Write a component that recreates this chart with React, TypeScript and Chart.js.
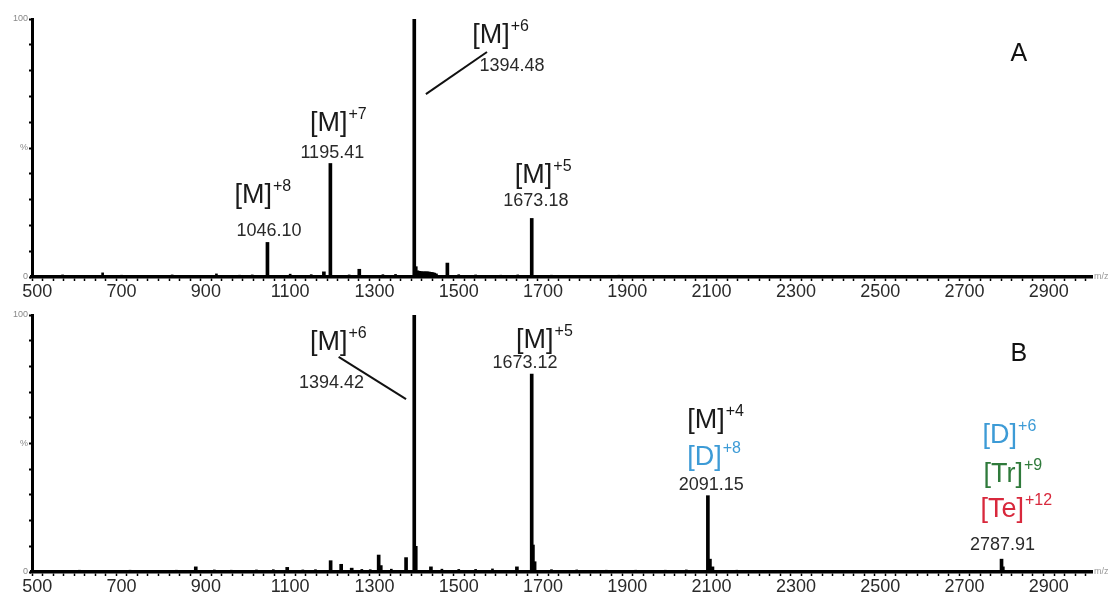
import React, { useEffect, useRef } from 'react';
import { Chart, registerables } from 'chart.js';
Chart.register(...registerables);

// ---------- data ----------
const X_MIN = 500;
const X_MAX = 2990;
const X_TICK_LABELS = [500, 700, 900, 1100, 1300, 1500, 1700, 1900, 2100, 2300, 2500, 2700, 2900];
const Y_TICK_LABELS: Record<number, string> = { 0: '0', 50: '%', 100: '100' };

// Panel A – main peaks (m/z, relative intensity %)
const A_PEAK_MZ = [1046.1, 1195.41, 1394.48, 1673.18, 1473, 1264, 1180, 1398, 1402, 1406, 1410, 1414, 1418, 1422, 1426, 1430, 1434, 1438, 1442, 1446];
const A_PEAK_INT = [13.4, 44, 100, 22.7, 5.4, 3, 2, 4, 2.4, 2.2, 2.1, 2, 2, 2, 2, 1.9, 1.8, 1.7, 1.5, 1.2];
// Panel A – small baseline signals
const A_NOISE_MZ = [560, 610, 655, 700, 760, 820, 870, 925, 980, 1010, 1100, 1150, 1240, 1320, 1350, 1500, 1540, 1600, 1640, 1720, 1800, 1880, 1960, 2050, 2150, 2250, 2350, 2480, 2600, 2700, 2850, 2950];
const A_NOISE_INT = [0.8, 0.6, 1.6, 0.7, 0.6, 0.8, 0.6, 1.2, 0.7, 0.8, 1.1, 0.9, 0.8, 0.9, 1.0, 0.9, 0.8, 0.7, 0.8, 0.7, 0.6, 0.7, 0.6, 0.6, 0.6, 0.5, 0.6, 0.5, 0.5, 0.5, 0.5, 0.5];

// Panel B – main peaks
const B_PEAK_MZ = [1394.42, 1673.12, 2091.15, 2787.91, 1196, 1221, 1246, 1310, 1375, 1398, 1676, 1680, 2096, 2102, 876, 1093, 1434, 1638, 1315, 2791];
const B_PEAK_INT = [100, 77, 29.7, 5, 4.4, 3, 1.5, 6.6, 5.6, 10, 10.5, 4, 5, 2, 2, 1.8, 2, 2, 2.5, 2];
// Panel B – small baseline signals
const B_NOISE_MZ = [550, 600, 660, 720, 780, 830, 920, 960, 1020, 1060, 1130, 1160, 1270, 1290, 1340, 1460, 1500, 1540, 1580, 1720, 1780, 1850, 1920, 1990, 2040, 2160, 2220, 2300, 2400, 2500, 2600, 2700, 2850, 2950];
const B_NOISE_INT = [0.6, 0.7, 0.6, 0.7, 0.6, 0.7, 0.8, 0.7, 0.8, 0.9, 0.8, 0.9, 1.0, 0.9, 1.1, 1.1, 1.0, 1.0, 1.2, 0.9, 0.8, 0.7, 0.7, 0.7, 0.8, 0.7, 0.6, 0.6, 0.6, 0.6, 0.6, 0.6, 0.6, 0.6];

const BLUE = '#3d9bd6';
const GREEN = '#2f7a3b';
const RED = '#d8283c';

type Ann =
  | { kind: 'ion'; x: number; y: number; text: string; sup: string; color: string }
  | { kind: 'num'; x: number; y: number; text: string; align: CanvasTextAlign }
  | { kind: 'line'; x1: number; y1: number; x2: number; y2: number }
  | { kind: 'panel'; x: number; y: number; text: string };

const A_ANN: Ann[] = [
  { kind: 'ion', x: 968, y: 28.7, text: '[M]', sup: '+8', color: '#1a1a1a' },
  { kind: 'num', x: 1050, y: 17.8, text: '1046.10', align: 'center' },
  { kind: 'ion', x: 1147, y: 56.6, text: '[M]', sup: '+7', color: '#1a1a1a' },
  { kind: 'num', x: 1200, y: 48, text: '1195.41', align: 'center' },
  { kind: 'ion', x: 1532, y: 90.7, text: '[M]', sup: '+6', color: '#1a1a1a' },
  { kind: 'num', x: 1549, y: 81.8, text: '1394.48', align: 'left' },
  { kind: 'line', x1: 1422, y1: 70.9, x2: 1567, y2: 87.2 },
  { kind: 'ion', x: 1633, y: 36.4, text: '[M]', sup: '+5', color: '#1a1a1a' },
  { kind: 'num', x: 1683, y: 29.5, text: '1673.18', align: 'center' },
  { kind: 'panel', x: 2809, y: 86.4, text: 'A' },
];

const B_ANN: Ann[] = [
  { kind: 'ion', x: 1147, y: 86.4, text: '[M]', sup: '+6', color: '#1a1a1a' },
  { kind: 'line', x1: 1215, y1: 83.7, x2: 1375, y2: 67.3 },
  { kind: 'num', x: 1121, y: 73.5, text: '1394.42', align: 'left' },
  { kind: 'ion', x: 1636, y: 87.2, text: '[M]', sup: '+5', color: '#1a1a1a' },
  { kind: 'num', x: 1657, y: 81.3, text: '1673.12', align: 'center' },
  { kind: 'ion', x: 2042, y: 56, text: '[M]', sup: '+4', color: '#1a1a1a' },
  { kind: 'ion', x: 2042, y: 41.6, text: '[D]', sup: '+8', color: BLUE },
  { kind: 'num', x: 2099, y: 33.9, text: '2091.15', align: 'center' },
  { kind: 'ion', x: 2743, y: 50.2, text: '[D]', sup: '+6', color: BLUE },
  { kind: 'ion', x: 2745, y: 35, text: '[Tr]', sup: '+9', color: GREEN },
  { kind: 'ion', x: 2738, y: 21.4, text: '[Te]', sup: '+12', color: RED },
  { kind: 'num', x: 2790, y: 10.5, text: '2787.91', align: 'center' },
  { kind: 'panel', x: 2809, y: 84.8, text: 'B' },
];

const FONT = '"Liberation Sans", Arial, Helvetica, sans-serif';

const annPlugin = {
  id: 'ann',
  afterDraw(chart: any, _args: any, opts: any) {
    const ctx: CanvasRenderingContext2D = chart.ctx;
    const xs = chart.scales.x;
    const ys = chart.scales.y;
    const px = (v: number) => xs.getPixelForValue(v);
    const py = (v: number) => ys.getPixelForValue(v);
    ctx.save();
    for (const a of (opts.items as Ann[]) || []) {
      if (a.kind === 'ion') {
        ctx.fillStyle = a.color;
        ctx.textAlign = 'left';
        ctx.textBaseline = 'alphabetic';
        ctx.font = `27px ${FONT}`;
        const x = px(a.x);
        const y = py(a.y);
        ctx.fillText(a.text, x, y);
        const w = ctx.measureText(a.text).width;
        ctx.font = `16px ${FONT}`;
        ctx.fillText(a.sup, x + w + 1, y - 12);
      } else if (a.kind === 'num') {
        ctx.fillStyle = '#2a2a2a';
        ctx.textAlign = a.align;
        ctx.textBaseline = 'middle';
        ctx.font = `18px ${FONT}`;
        ctx.fillText(a.text, px(a.x), py(a.y));
      } else if (a.kind === 'line') {
        ctx.strokeStyle = '#111';
        ctx.lineWidth = 2;
        ctx.beginPath();
        ctx.moveTo(px(a.x1), py(a.y1));
        ctx.lineTo(px(a.x2), py(a.y2));
        ctx.stroke();
      } else if (a.kind === 'panel') {
        ctx.fillStyle = '#111';
        ctx.textAlign = 'left';
        ctx.textBaseline = 'middle';
        ctx.font = `25px ${FONT}`;
        ctx.fillText(a.text, px(a.x), py(a.y));
      }
    }
    // m/z axis unit
    ctx.fillStyle = '#999';
    ctx.textAlign = 'left';
    ctx.textBaseline = 'middle';
    ctx.font = `9px ${FONT}`;
    ctx.fillText('m/z', chart.chartArea.right + 2, py(0));
    ctx.restore();
  },
};

const X_TICKS: number[] = [];
for (let v = X_MIN; v <= 2975; v += 25) X_TICKS.push(v);
const Y_TICKS = [0, 10, 20, 30, 40, 50, 60, 70, 80, 90, 100];

function makeConfig(
  peakMz: number[],
  peakInt: number[],
  noiseMz: number[],
  noiseInt: number[],
  ann: Ann[],
  padTop: number,
  axisH: number
): any {
  return {
    type: 'bar',
    data: {
      datasets: [
        {
          data: peakMz.map((x, i) => ({ x, y: peakInt[i] })),
          backgroundColor: '#000',
          borderWidth: 0,
          barThickness: 3,
          grouped: false,
        },
        {
          data: noiseMz.map((x, i) => ({ x, y: noiseInt[i] })),
          backgroundColor: '#000',
          borderWidth: 0,
          barThickness: 2,
          grouped: false,
        },
      ],
    },
    options: {
      responsive: false,
      animation: false,
      events: [],
      layout: { padding: { top: padTop, right: 16, left: 0, bottom: 0 } },
      plugins: { legend: { display: false }, tooltip: { enabled: false }, ann: { items: ann } },
      scales: {
        x: {
          type: 'linear',
          min: X_MIN,
          max: X_MAX,
          afterBuildTicks: (s: any) => {
            s.ticks = X_TICKS.map((value) => ({ value }));
          },
          afterFit: (s: any) => {
            s.height = axisH;
          },
          border: { display: true, color: '#000', width: 3.5 },
          grid: { drawOnChartArea: false, drawTicks: true, tickLength: 4, tickWidth: 1.5, tickColor: '#000' },
          ticks: {
            autoSkip: false,
            maxRotation: 0,
            padding: 0,
            color: '#2a2a2a',
            font: { family: FONT, size: 18 },
            callback: (v: number) => (X_TICK_LABELS.includes(v) ? String(v) : ''),
          },
        },
        y: {
          type: 'linear',
          min: 0,
          max: 100,
          afterBuildTicks: (s: any) => {
            s.ticks = Y_TICKS.map((value) => ({ value }));
          },
          afterFit: (s: any) => {
            s.width = 32;
          },
          border: { display: true, color: '#000', width: 3 },
          grid: { drawOnChartArea: false, drawTicks: true, tickLength: 3, tickWidth: 2, tickColor: '#000' },
          ticks: {
            autoSkip: false,
            padding: 1,
            color: '#888',
            font: { family: FONT, size: 9 },
            callback: (v: number) => Y_TICK_LABELS[v] ?? '',
          },
        },
      },
    },
    plugins: [annPlugin],
  };
}

export default function App() {
  const refA = useRef<HTMLCanvasElement>(null);
  const refB = useRef<HTMLCanvasElement>(null);

  useEffect(() => {
    const a = new Chart(refA.current as HTMLCanvasElement, makeConfig(A_PEAK_MZ, A_PEAK_INT, A_NOISE_MZ, A_NOISE_INT, A_ANN, 19, 21));
    const b = new Chart(refB.current as HTMLCanvasElement, makeConfig(B_PEAK_MZ, B_PEAK_INT, B_NOISE_MZ, B_NOISE_INT, B_ANN, 17, 24));
    return () => {
      a.destroy();
      b.destroy();
    };
  }, []);

  return (
    <div style={{ position: 'absolute', left: 0, top: 0, width: 1108, height: 596, background: '#fff' }}>
      <canvas ref={refA} width={1108} height={298} style={{ display: 'block', width: 1108, height: 298 }} />
      <canvas ref={refB} width={1108} height={298} style={{ display: 'block', width: 1108, height: 298 }} />
    </div>
  );
}
